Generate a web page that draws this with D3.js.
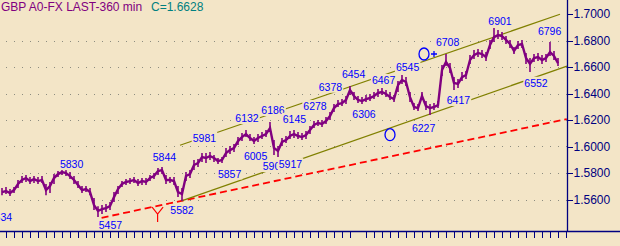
<!DOCTYPE html>
<html>
<head>
<meta charset="utf-8">
<script src="https://cdn.jsdelivr.net/npm/d3@7/dist/d3.min.js"></script>
<style>
  html, body { margin: 0; padding: 0; background: #F3E5C7; }
  svg { display: block; font-family: "Liberation Sans", Arial, sans-serif; }
</style>
</head>
<body>
<svg id="chart" width="620" height="246"></svg>
<script>
// ---------------------------------------------------------------------------
// DATA  (prices in pips: 5656 -> 1.5656), one entry per bar
// ---------------------------------------------------------------------------
const closes = [
  5656,5664,5649,5671,5717,5747,5762,5739,5754,5739,5747,5671,5701,5762,5792,5807,5800,5777,5747,5709,
  5671,5679,5656,5558,5513,5528,5535,5550,5618,5679,5717,5732,5739,5747,5724,5739,5732,5762,5777,5815,
  5822,5747,5747,5739,5656,5641,5777,5792,5860,5875,5920,5913,5928,5913,5890,5898,5951,5973,5988,6041,
  6071,6094,6064,6041,6064,6079,6094,6139,5988,5966,6034,6049,6079,6094,6079,6071,6087,6124,6162,6177,
  6170,6192,6230,6290,6320,6328,6351,6426,6381,6351,6343,6358,6366,6381,6404,6411,6396,6373,6358,6464,
  6502,6487,6373,6298,6290,6381,6305,6290,6298,6313,6577,6638,6592,6479,6472,6524,6540,6653,6690,6706,
  6698,6675,6766,6826,6841,6834,6804,6774,6721,6766,6774,6668,6623,6668,6675,6653,6668,6713,6683,6628
];
const highs = [
  5686,5694,5679,5694,5747,5777,5784,5769,5777,5769,5777,5717,5732,5792,5815,5830,5822,5807,5777,5739,
  5701,5701,5686,5611,5550,5558,5566,5581,5656,5701,5739,5754,5762,5769,5754,5762,5762,5784,5800,5837,
  5845,5784,5769,5769,5701,5686,5807,5822,5898,5905,5951,5951,5958,5935,5913,5920,5988,6003,6018,6071,
  6102,6124,6094,6071,6094,6109,6124,6185,6049,6003,6064,6079,6117,6124,6109,6102,6117,6154,6192,6200,
  6200,6222,6260,6320,6351,6358,6381,6456,6411,6381,6373,6388,6396,6411,6434,6441,6426,6411,6388,6494,
  6540,6524,6411,6328,6320,6411,6343,6320,6328,6343,6615,6698,6630,6524,6509,6562,6570,6690,6728,6736,
  6728,6713,6804,6894,6879,6864,6834,6804,6751,6796,6804,6706,6668,6698,6706,6690,6698,6789,6721,6668
];
const lows = [
  5633,5641,5626,5649,5686,5724,5732,5717,5724,5717,5724,5633,5649,5717,5769,5784,5777,5754,5717,5686,
  5649,5656,5633,5520,5467,5490,5505,5520,5581,5641,5694,5709,5717,5724,5701,5709,5709,5739,5754,5784,
  5792,5717,5724,5709,5618,5588,5739,5762,5822,5845,5883,5875,5898,5883,5867,5875,5920,5943,5958,6011,
  6041,6071,6041,6018,6034,6056,6071,6109,5935,5920,6003,6026,6056,6064,6056,6049,6056,6094,6139,6154,
  6147,6170,6200,6260,6298,6305,6320,6388,6351,6328,6320,6336,6343,6358,6373,6388,6373,6351,6336,6411,
  6472,6456,6336,6275,6268,6351,6275,6237,6275,6290,6532,6607,6555,6426,6441,6494,6509,6623,6660,6675,
  6668,6645,6736,6789,6811,6804,6774,6743,6698,6736,6743,6623,6562,6638,6645,6623,6638,6683,6653,6607
];

// right-hand price axis
const priceTicks = [1.56, 1.58, 1.60, 1.62, 1.64, 1.66, 1.68, 1.70];
const gridLevels = [1.56, 1.58, 1.60, 1.62, 1.64, 1.66, 1.68];

// swing labels: text, bar position, price level of the label baseline
const labelText = ["5634","5830","5457","5844","5582","5857","5981","6132","6186","6145","6005","5900","5917",
                   "6278","6378","6454","6467","6545","6306","6227","6417","6552","6708","6901","6796"];
const labelBar  = [-0.4,17.4,27.1,40.6,45,56.9,50.6,61.25,67.75,73.1,63.4,68.1,72.1,
                   78.25,82.1,87.9,95.4,101.4,90.5,105.4,114.1,133.5,111.4,124.5,136.9];
const labelPips = [5437,5837,5377,5890,5490,5766,6034,6185,6245,6179,5898,5822,5837,
                   6275,6421,6517,6472,6572,6215,6109,6321,6451,6758,6917,6841];

// trend lines: [startBar, startPips, endBar, endPips]
const upperChannel = [44.5, 6009, 139.5, 6998];
const lowerChannel = [44.9, 5590, 141.25, 6607];
const supportLine  = [24.9, 5462, 141.2, 6207];

// marks drawn on the chart
const circleMarks = [[97, 6089], [105.5, 6698]];
const plusMark    = [108.0, 6698];
const yMark       = [38.9, 5543, 5490, 5430];   // bar, arm top, junction, foot

const titleText = "GBP A0-FX LAST-360 min";
const lastText  = "C=1.6628";

// ---------------------------------------------------------------------------
// SETUP
// ---------------------------------------------------------------------------
const BG = "#F3E5C7", PURPLE = "#800080", NAVY = "#000080", BLUE = "#0000FF",
      OLIVE = "#808000", RED = "#FF0000";
const svg = d3.select("#chart");
const pip = v => 1 + v / 10000;

const x = d3.scaleLinear().domain([0, 140]).range([2, 562]);
const y = d3.scaleLinear().domain([1.56, 1.70]).range([199.5, 14]);
const axisX = 567.5, axisY = 231.5;

const tickBars = d3.range(1, 142, 2).filter(i => i !== 89);

// grid dots (one dot per time tick)
const grid = svg.append("g").attr("fill", "#8c8c80");
gridLevels.forEach(lv => {
  grid.selectAll(null)
    .data(tickBars)
    .join("rect")
      .attr("x", d => Math.round(x(d)))
      .attr("y", Math.round(y(lv)))
      .attr("width", 1).attr("height", 1);
});

// ---------------------------------------------------------------------------
// TREND LINES
// ---------------------------------------------------------------------------
function trend(seg, color, width, dash) {
  svg.append("line")
    .attr("x1", x(seg[0])).attr("y1", y(pip(seg[1])))
    .attr("x2", x(seg[2])).attr("y2", y(pip(seg[3])))
    .attr("stroke", color).attr("stroke-width", width)
    .attr("stroke-dasharray", dash || null);
}
trend(supportLine, RED, 1.8, "7,4");
trend(upperChannel, OLIVE, 1.2);
trend(lowerChannel, OLIVE, 1.2);

// ---------------------------------------------------------------------------
// PRICE BARS
// ---------------------------------------------------------------------------
const bars = svg.append("g").attr("stroke", PURPLE);
bars.selectAll("line")
  .data(closes)
  .join("line")
    .attr("x1", (d, i) => x(i)).attr("x2", (d, i) => x(i))
    .attr("y1", (d, i) => y(pip(highs[i])))
    .attr("y2", (d, i) => y(pip(lows[i])))
    .attr("stroke-width", 1.6);

svg.append("path")
  .datum(closes)
  .attr("fill", "none")
  .attr("stroke", PURPLE)
  .attr("stroke-width", 2.4)
  .attr("d", d3.line().x((d, i) => x(i)).y(d => y(pip(d))));

// ---------------------------------------------------------------------------
// SWING LABELS (opaque background hides the lines underneath)
// ---------------------------------------------------------------------------
const labels = svg.append("g");
labelText.forEach((t, i) => {
  const g = labels.append("g");
  const txt = g.append("text")
    .attr("x", x(labelBar[i])).attr("y", y(pip(labelPips[i])))
    .attr("text-anchor", "middle")
    .attr("font-size", "10.5px")
    .attr("fill", BLUE)
    .text(t);
  const b = txt.node().getBBox();
  g.insert("rect", "text")
    .attr("x", b.x - 1).attr("y", b.y)
    .attr("width", b.width + 2).attr("height", b.height)
    .attr("fill", BG);
});

// circles and plus
svg.selectAll("ellipse.mark")
  .data(circleMarks)
  .join("ellipse")
    .attr("class", "mark")
    .attr("cx", d => x(d[0])).attr("cy", d => y(pip(d[1])))
    .attr("rx", 5).attr("ry", 6)
    .attr("fill", "none").attr("stroke", BLUE).attr("stroke-width", 1.3);
const px = x(plusMark[0]), py = y(pip(plusMark[1]));
svg.append("path")
  .attr("d", `M${px - 3},${py}H${px + 3}M${px},${py - 3}V${py + 3}`)
  .attr("stroke", BLUE).attr("stroke-width", 1.3);

// red Y
const yx = x(yMark[0]);
svg.append("path")
  .attr("d", `M${yx - 5.5},${y(pip(yMark[1]))}L${yx},${y(pip(yMark[2]))}L${yx + 5.5},${y(pip(yMark[1]))}` +
             `M${yx},${y(pip(yMark[2]))}V${y(pip(yMark[3]))}`)
  .attr("fill", "none").attr("stroke", RED).attr("stroke-width", 1.2);

// ---------------------------------------------------------------------------
// AXES
// ---------------------------------------------------------------------------
const right = svg.append("g")
  .attr("transform", `translate(${axisX},0)`)
  .call(d3.axisRight(y).tickValues(priceTicks).tickFormat(d3.format(".4f"))
          .tickSize(5).tickPadding(1));
right.select(".domain").remove();
right.selectAll("line").attr("stroke", NAVY).attr("shape-rendering", "crispEdges");
right.selectAll("text")
  .attr("fill", NAVY).attr("font-size", "12px")
  .attr("font-family", "'Liberation Sans', Arial, sans-serif");

svg.append("line")
  .attr("x1", axisX).attr("x2", axisX).attr("y1", 0).attr("y2", axisY)
  .attr("stroke", NAVY).attr("stroke-width", 1.3);

const bottom = svg.append("g")
  .attr("transform", `translate(0,${axisY})`)
  .call(d3.axisBottom(x).tickValues(tickBars).tickFormat("").tickSize(6));
bottom.select(".domain").remove();
bottom.selectAll("line")
  .attr("stroke", NAVY)
  .attr("transform", function () { return null; })
  .attr("shape-rendering", "crispEdges");

svg.append("line")
  .attr("x1", 0).attr("x2", 620).attr("y1", axisY).attr("y2", axisY)
  .attr("stroke", NAVY).attr("stroke-width", 1.3);

// ---------------------------------------------------------------------------
// TITLE
// ---------------------------------------------------------------------------
const title = svg.append("text")
  .attr("x", 1).attr("y", 11)
  .attr("font-size", "12px");
title.append("tspan").attr("fill", PURPLE).text(titleText);
title.append("tspan").attr("x", 151).attr("fill", "#008080").text(lastText);
</script>
</body>
</html>
